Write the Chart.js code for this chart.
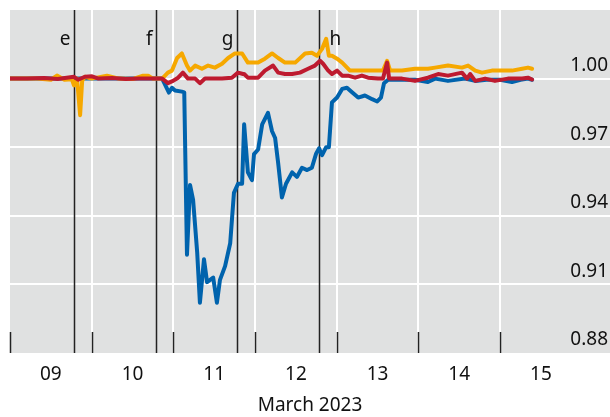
<!DOCTYPE html>
<html>
<head>
<meta charset="utf-8">
<script src="https://cdn.jsdelivr.net/npm/chart.js@4.4.1/dist/chart.umd.min.js"></script>
<style>
  body { margin: 0; background: #fff; }
</style>
</head>
<body>
<canvas id="chart" width="610" height="417"></canvas>
<script>
// hours counted from 00:00 on 9 March 2023
const dayLabels = ['09', '10', '11', '12', '13', '14', '15'];
const yTicks = [0.88, 0.91, 0.94, 0.97, 1.00];

const eventNames = ['e', 'f', 'g', 'h'];
const eventHours = [18.8, 42.9, 66.7, 90.8];

const redHours = [0, 5, 10, 14, 18.8, 20, 22, 24.1, 26, 30, 34, 38, 42, 44.7, 46.4, 47.9, 49.4, 50.8, 52.3, 54.4, 55.8, 57.3, 59.4, 62.3, 65.2, 67.0, 68.5, 68.8, 69.9, 71.1, 72.9, 74.9, 77.3, 78.8, 80.8, 82.9, 85.2, 87.6, 89.6, 91.1, 92.0, 93.5, 94.6, 96.1, 97.6, 99.3, 101.4, 103.4, 105.2, 108.1, 109.6, 110.8, 111.4, 115.2, 119.0, 122.8, 125.8, 128.7, 132.8, 134.3, 135.2, 136.7, 139.6, 142.5, 146.3, 150.5, 152.2, 153.4];
const redValues = [1.000, 1.000, 1.0003, 0.9998, 1.0008, 0.9995, 1.0008, 1.001, 1.000, 1.0003, 0.9998, 1.000, 1.000, 1.000, 0.998, 0.999, 1.0004, 1.0026, 1.000, 1.000, 0.998, 1.000, 1.000, 1.000, 1.0004, 1.0026, 1.002, 1.002, 1.0004, 1.0004, 1.0004, 1.0035, 1.0057, 1.0026, 1.002, 1.002, 1.0026, 1.0043, 1.0057, 1.0078, 1.0065, 1.0035, 1.002, 1.0035, 1.0013, 1.0013, 1.0004, 1.0013, 1.0004, 1.000, 1.000, 1.007, 1.000, 1.000, 0.999, 1.0004, 1.002, 1.0013, 1.0026, 1.000, 1.002, 0.999, 1.000, 0.999, 1.000, 1.000, 1.0004, 0.9996];

const orangeHours = [0, 8, 12, 13.8, 16, 18.2, 18.8, 19.7, 20.6, 21.2, 22, 24, 28.5, 32, 36, 39.1, 40.6, 42, 44.7, 46.4, 47.6, 49.1, 50.5, 52.0, 52.9, 54.4, 56.4, 58.2, 60.2, 62.3, 64.1, 66.1, 68.2, 69.9, 71.1, 72.9, 74.9, 77.0, 78.8, 80.8, 83.8, 86.7, 88.7, 90.2, 91.7, 92.9, 93.7, 94.6, 96.1, 97.6, 99.9, 102.3, 105.2, 108.1, 109.6, 110.8, 111.7, 115.2, 119.0, 122.8, 124.9, 128.7, 132.8, 134.6, 136.7, 138.7, 141.6, 144.6, 147.5, 150.5, 152.2, 153.4];
const orangeValues = [1.000, 1.000, 0.9995, 1.0013, 0.9995, 0.9997, 0.997, 1.000, 0.984, 0.999, 1.0008, 1.000, 1.0013, 1.000, 0.9998, 1.0013, 1.0013, 1.000, 1.000, 1.0026, 1.0035, 1.009, 1.011, 1.0057, 1.0035, 1.0057, 1.0043, 1.0057, 1.0048, 1.0065, 1.009, 1.011, 1.011, 1.007, 1.007, 1.007, 1.0087, 1.011, 1.009, 1.007, 1.007, 1.011, 1.0113, 1.010, 1.013, 1.0174, 1.010, 1.010, 1.0087, 1.007, 1.0035, 1.0035, 1.0035, 1.0035, 1.0035, 1.0078, 1.0035, 1.0035, 1.0043, 1.0043, 1.0048, 1.0057, 1.0048, 1.0057, 1.0035, 1.0026, 1.0035, 1.0035, 1.0035, 1.0043, 1.0048, 1.0043];

const blueHours = [0, 20, 44.7, 46.7, 47.6, 48.5, 50.5, 51.2, 52.0, 52.9, 53.8, 55.0, 55.8, 57.0, 57.9, 59.7, 60.8, 61.7, 63.2, 64.7, 65.8, 67.0, 68.2, 68.8, 69.9, 71.1, 71.7, 72.9, 74.1, 75.8, 77.0, 77.9, 78.8, 79.9, 81.1, 82.9, 84.3, 85.8, 87.3, 88.7, 89.9, 90.8, 91.7, 92.9, 93.7, 94.6, 96.1, 97.6, 99.0, 100.5, 102.3, 104.3, 106.4, 107.9, 109.0, 109.9, 111.1, 115, 119, 122.8, 124.9, 128.7, 133.7, 136.7, 140, 144, 147.5, 150, 152.2, 153.4];
const blueValues = [1.000, 1.000, 1.000, 0.9939, 0.996, 0.9948, 0.9943, 0.994, 0.923, 0.9535, 0.947, 0.924, 0.902, 0.921, 0.911, 0.913, 0.902, 0.912, 0.918, 0.928, 0.950, 0.954, 0.954, 0.980, 0.959, 0.9556, 0.967, 0.969, 0.980, 0.985, 0.977, 0.974, 0.963, 0.948, 0.954, 0.959, 0.957, 0.961, 0.960, 0.961, 0.967, 0.9695, 0.9665, 0.970, 0.970, 0.9896, 0.9917, 0.9955, 0.996, 0.994, 0.9917, 0.9926, 0.991, 0.990, 0.9917, 0.998, 0.9995, 0.9995, 0.9995, 0.9985, 1.000, 0.999, 1.000, 0.999, 0.9995, 0.9995, 0.9985, 0.9995, 1.000, 0.9995];

function pairs(xs, ys) {
  return xs.map((x, i) => ({ x: x, y: ys[i] }));
}

const FONT = "'Noto Sans', sans-serif";

const backdrop = {
  id: 'backdrop',
  beforeDraw(chart) {
    const a = chart.chartArea;
    const ctx = chart.ctx;
    ctx.save();
    ctx.fillStyle = '#e0e1e1';
    ctx.fillRect(a.left, a.top, chart.width - a.left, a.bottom - a.top);
    ctx.restore();
  },
  beforeDatasetsDraw(chart) {
    const a = chart.chartArea;
    const ctx = chart.ctx;
    const xs = chart.scales.x;
    ctx.save();
    // short day ticks along the bottom
    ctx.strokeStyle = '#222';
    ctx.lineWidth = 1.5;
    for (let h = 0; h <= 144; h += 24) {
      const px = Math.round(xs.getPixelForValue(h)) + 0.5;
      ctx.beginPath();
      ctx.moveTo(px, a.bottom - 21);
      ctx.lineTo(px, a.bottom);
      ctx.stroke();
    }
    // event lines
    ctx.font = '19px ' + FONT;
    ctx.fillStyle = '#111';
    ctx.textBaseline = 'alphabetic';
    for (let i = 0; i < eventHours.length; i++) {
      const px = Math.round(xs.getPixelForValue(eventHours[i])) + 0.5;
      ctx.beginPath();
      ctx.moveTo(px, a.top);
      ctx.lineTo(px, a.bottom);
      ctx.stroke();
      if (eventNames[i] === 'h') {
        ctx.textAlign = 'left';
        ctx.fillText(eventNames[i], px + 10, 45);
      } else {
        ctx.textAlign = 'right';
        ctx.fillText(eventNames[i], px - 4, 45);
      }
    }
    ctx.restore();
  }
};

new Chart(document.getElementById('chart'), {
  type: 'line',
  data: {
    datasets: [
      { label: 'red', data: pairs(redHours, redValues), borderColor: '#be1a2f' },
      { label: 'orange', data: pairs(orangeHours, orangeValues), borderColor: '#f6a800' },
      { label: 'blue', data: pairs(blueHours, blueValues), borderColor: '#0063ad' }
    ]
  },
  options: {
    responsive: false,
    animation: false,
    devicePixelRatio: 1,
    layout: { padding: { top: 10, left: 10, right: 0, bottom: 0 } },
    elements: {
      line: { borderWidth: 4, tension: 0, borderJoinStyle: 'round', borderCapStyle: 'round' },
      point: { radius: 0 }
    },
    plugins: { legend: { display: false }, tooltip: { enabled: false } },
    scales: {
      x: {
        type: 'linear',
        min: 0,
        max: 176.3,
        border: { display: false },
        grid: {
          drawTicks: false,
          lineWidth: 2,
          color: (c) => (c.tick && c.tick.value % 24 === 0 && c.tick.value > 0 && c.tick.value < 168) ? '#ffffff' : 'rgba(0,0,0,0)'
        },
        ticks: {
          stepSize: 12,
          includeBounds: false,
          autoSkip: false,
          maxRotation: 0,
          padding: 10,
          color: '#111',
          font: { family: FONT, size: 19 },
          callback: (v) => (v % 24 === 12 ? dayLabels[(v - 12) / 24] : '')
        },
        title: {
          display: true,
          text: 'March 2023',
          color: '#111',
          font: { family: FONT, size: 19 },
          padding: { top: 0, bottom: 0 }
        },
        afterFit: (s) => { s.height = 64; }
      },
      y: {
        position: 'right',
        min: 0.88,
        max: 1.03,
        border: { display: false },
        afterBuildTicks: (s) => { s.ticks = yTicks.map((v) => ({ value: v })); },
        afterFit: (s) => { s.width = 0; },
        grid: {
          drawTicks: false,
          lineWidth: 2,
          color: (c) => (c.tick && c.tick.value > 0.885) ? '#ffffff' : 'rgba(0,0,0,0)'
        },
        ticks: {
          mirror: true,
          padding: -2,
          labelOffset: -13,
          color: '#111',
          font: { family: FONT, size: 19 },
          callback: (v) => Number(v).toFixed(2)
        }
      }
    }
  },
  plugins: [backdrop]
});
</script>
</body>
</html>
